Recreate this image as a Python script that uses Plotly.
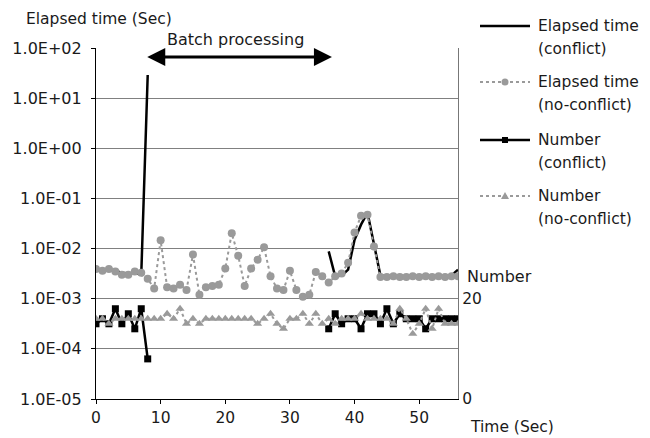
import plotly.graph_objects as go

# ---- data ----
time_sec = list(range(0, 57))

elapsed_conflict = [0.0038, 0.0036, 0.0039, 0.0036, 0.0033, 0.0032, 0.0033, 0.0030, 29.0] + \
    [None] * 27 + \
    [0.0088, 0.0028, 0.0029, 0.0038, 0.015, 0.030, 0.052, 0.012, 0.0029,
     0.0028, 0.0029, 0.0028, 0.0028, 0.0029, 0.0028, 0.0029, 0.0029, 0.0028, 0.0029, 0.0029, 0.0038]

elapsed_noconflict = [0.0039, 0.0036, 0.0039, 0.0035, 0.0030, 0.0030, 0.0035, 0.0033, 0.0025, 0.0016,
                      0.0146, 0.0017, 0.0016, 0.0019, 0.0015, 0.0076, 0.0012, 0.0017, 0.0018, 0.0019,
                      0.0040, 0.0201, 0.0072, 0.0018, 0.0040, 0.0060, 0.0106, 0.0028, 0.0016, 0.0015,
                      0.0036, 0.0015, 0.0011, 0.0012, 0.0034, 0.0028, 0.0021, 0.0028, 0.0032, 0.0052,
                      0.021, 0.045, 0.047, 0.011, 0.0027, 0.0027, 0.0028, 0.0027, 0.0027, 0.0028,
                      0.0027, 0.0028, 0.0027, 0.0028, 0.0027, 0.0028, 0.0028]

number_conflict = [15, 16, 15, 18, 15, 17, 14, 18, 8] + [None] * 27 + \
    [14, 17, 15, 16, 16, 14, 17, 17, 15, 18, 15, 17, 16, 16, 16, 14, 16, 16, 16, 16, 16]

number_noconflict = [16, 16, 15, 16, 16, 16, 16, 16, 16, 16,
                     16, 17, 16, 18, 15, 16, 15, 16, 16, 16,
                     16, 16, 16, 16, 16, 15, 16, 17, 15, 14,
                     16, 16, 17, 15, 17, 15, 16, 15, 16, 16,
                     16, 17, 16, 16, 16, 16, 15, 18, 16, 13,
                     15, 18, 14, 18, 15, 15, 15]

series_names = [("Elapsed time", "(conflict)"), ("Elapsed time", "(no-conflict)"),
                ("Number", "(conflict)"), ("Number", "(no-conflict)")]

x_ticks = [0, 10, 20, 30, 40, 50]
y_ticks = [1e-5, 1e-4, 1e-3, 1e-2, 1e-1, 1e0, 1e1, 1e2]
y_ticktext = [f"{v:.1E}" for v in y_ticks]
y2_ticks = [0, 20]

FONT = "DejaVu Sans"
GRAY = "#9a9a9a"
W, H = 650, 438
ML, MR, MT, MB = 96, 192, 48, 39
PW, PH = W - ML - MR, H - MT - MB


def px_x(px):
    return (px - ML) / PW


def px_y(py):
    return (H - MB - py) / PH


styles = [
    dict(line=dict(color="black", width=2.5), marker=None),
    dict(line=dict(color=GRAY, width=2, dash="dot"), marker=dict(symbol="circle", size=8, color=GRAY)),
    dict(line=dict(color="black", width=2.5), marker=dict(symbol="square", size=7, color="black")),
    dict(line=dict(color=GRAY, width=2, dash="dot"), marker=dict(symbol="triangle-up", size=8, color=GRAY)),
]

fig = go.Figure()
fig.add_trace(go.Scatter(x=time_sec, y=elapsed_conflict, name="Elapsed time (conflict)",
                         mode="lines", line=styles[0]["line"], connectgaps=False))
fig.add_trace(go.Scatter(x=time_sec, y=elapsed_noconflict, name="Elapsed time (no-conflict)",
                         mode="lines+markers", line=styles[1]["line"], marker=styles[1]["marker"]))
fig.add_trace(go.Scatter(x=time_sec, y=number_conflict, name="Number (conflict)", yaxis="y2",
                         mode="lines+markers", line=styles[2]["line"], marker=styles[2]["marker"],
                         connectgaps=False))
fig.add_trace(go.Scatter(x=time_sec, y=number_noconflict, name="Number (no-conflict)", yaxis="y2",
                         mode="lines+markers", line=styles[3]["line"], marker=styles[3]["marker"]))

fig.update_layout(
    width=W, height=H,
    margin=dict(l=ML, r=MR, t=MT, b=MB),
    paper_bgcolor="white", plot_bgcolor="white",
    font=dict(family=FONT, size=15, color="#1a1a1a"),
    showlegend=False,
    xaxis=dict(range=[0, 56], tickvals=x_ticks, ticks="outside", ticklen=4,
               tickcolor="black", showline=True, linecolor="black", linewidth=1.2,
               showgrid=False, zeroline=False, tickfont=dict(size=15.5)),
    yaxis=dict(type="log", range=[-5, 2], tickvals=y_ticks, ticktext=y_ticktext,
               ticks="outside", ticklen=4, tickcolor="black", ticklabelstandoff=6,
               showline=True, linecolor="black", linewidth=1.2, tickfont=dict(size=16),
               showgrid=True, gridcolor="#808080", gridwidth=1, zeroline=False),
    yaxis2=dict(overlaying="y", side="right", range=[0, 70], tickvals=y2_ticks,
                ticks="", showline=True, linecolor="#777777", linewidth=1.2,
                showgrid=False, zeroline=False, tickfont=dict(size=15.5)),
)

# axis titles as annotations
fig.add_annotation(text="Elapsed time (Sec)", xref="paper", yref="paper", x=px_x(24), y=px_y(19),
                   xanchor="left", yanchor="middle", showarrow=False, font=dict(size=15.5))
fig.add_annotation(text="Time (Sec)", xref="paper", yref="paper", x=px_x(468), y=px_y(427),
                   xanchor="left", yanchor="middle", showarrow=False, font=dict(size=15.5))
fig.add_annotation(text="Number", xref="paper", yref="paper", x=px_x(465), y=px_y(276),
                   xanchor="left", yanchor="middle", showarrow=False, font=dict(size=16))

# batch processing arrow
fig.add_annotation(x=36.5, y=1.82, ax=7.7, ay=1.82, xref="x", yref="y", axref="x", ayref="y",
                   text="", showarrow=True, arrowside="end+start", arrowhead=2,
                   arrowsize=1.2, arrowwidth=3, arrowcolor="black")
fig.add_annotation(text="Batch processing", xref="x", yref="paper", x=21.6, y=px_y(39),
                   xanchor="center", yanchor="middle", showarrow=False, font=dict(size=16))

# custom legend
leg_y = [26, 82, 140, 196]
for i, ((l1, l2), st, ly) in enumerate(zip(series_names, styles, leg_y)):
    ln = st["line"]
    fig.add_shape(type="line", xref="paper", yref="paper", x0=px_x(480), x1=px_x(530),
                  y0=px_y(ly), y1=px_y(ly),
                  line=dict(color=ln["color"], width=ln["width"], dash=ln.get("dash", "solid")))
    mk = st["marker"]
    if mk is not None:
        cx, cy = px_x(505), px_y(ly)
        common = dict(xref="paper", yref="paper", xsizemode="pixel", ysizemode="pixel",
                      xanchor=cx, yanchor=cy, fillcolor=mk["color"], line=dict(width=0))
        if mk["symbol"] == "circle":
            fig.add_shape(type="circle", x0=-3.5, x1=3.5, y0=-3.5, y1=3.5, **common)
        elif mk["symbol"] == "square":
            fig.add_shape(type="rect", x0=-3, x1=3, y0=-3, y1=3, **common)
        else:
            fig.add_shape(type="path", path="M -4 -3 L 4 -3 L 0 4 Z", **common)
    fig.add_annotation(text=l1, xref="paper", yref="paper", x=px_x(536), y=px_y(ly),
                       xanchor="left", yanchor="middle", showarrow=False, font=dict(size=15.5))
    fig.add_annotation(text=l2, xref="paper", yref="paper", x=px_x(536), y=px_y(ly + 23),
                       xanchor="left", yanchor="middle", showarrow=False, font=dict(size=15.5))

fig.write_html("out.html")
